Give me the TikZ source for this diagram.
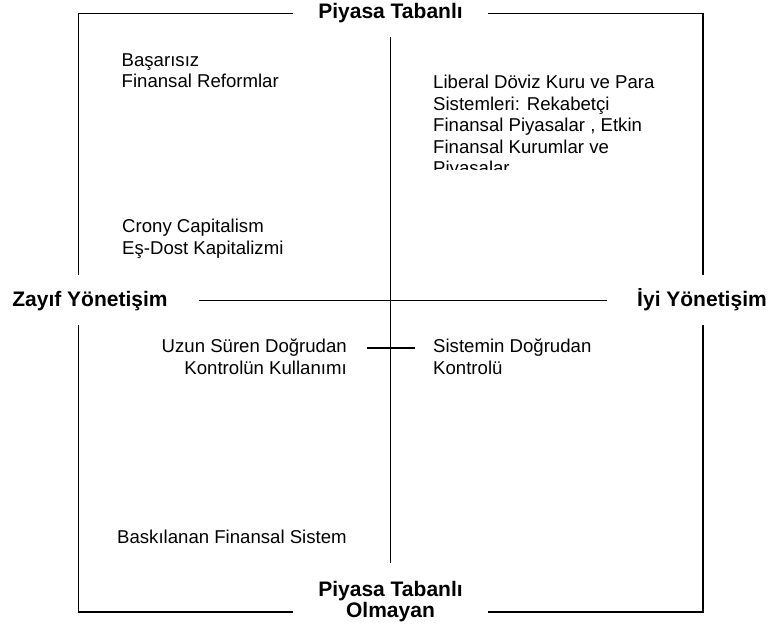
\documentclass[tikz,border=0pt]{standalone}
\usepackage{fontspec}
\setmainfont{Liberation Sans}
\begin{document}
\begin{tikzpicture}[x=1pt,y=-1pt,
  rule/.style={line width=1.8pt, black},
  axislabel/.style={font=\fontsize{21}{21}\selectfont\bfseries, inner sep=0pt, align=center},
  item/.style={font=\fontsize{18.6}{21.5}\selectfont, inner sep=0pt}]
\useasboundingbox (0,0) rectangle (771,628);

% axis labels
\node[axislabel, anchor=base] (top) at (390.5,18.5) {Piyasa Tabanlı};
\node[axislabel, anchor=north] (bottom) at (390.5,581) {Piyasa Tabanlı\\Olmayan};
\node[axislabel, anchor=base] (left) at (90,307) {Zayıf Yönetişim};
\node[axislabel, anchor=base] (right) at (702,307) {İyi Yönetişim};

% outer frame, broken where the labels sit
\coordinate (tl) at (78.5,13.5);
\coordinate (tr) at (703,13.5);
\coordinate (bl) at (78.5,612);
\coordinate (br) at (703,612);
\coordinate (topA) at (293,13.5);
\coordinate (topB) at (488,13.5);
\coordinate (botA) at (293,612);
\coordinate (botB) at (488,612);
\coordinate (leftA) at (78.5,275);
\coordinate (leftB) at (78.5,325);
\coordinate (rightA) at (703,275);
\coordinate (rightB) at (703,325);
\draw[rule] (topA) -- (tl) -- (leftA);
\draw[rule] (leftB) -- (bl) -- (botA);
\draw[rule] (botB) -- (br) -- (rightB);
\draw[rule] (rightA) -- (tr) -- (topB);

% axes
\coordinate (hl) at (199,300.5);
\coordinate (hr) at (607,300.5);
\coordinate (vt) at (390.5,37);
\coordinate (vb) at (390.5,563);
\draw[rule] (hl) -- (hr);
\draw[rule] (vt) -- (vb);

% short tick between the two control entries
\coordinate (tickL) at (367,348);
\coordinate (tickR) at (415,348);
\draw[rule] (tickL) -- (tickR);

% quadrant entries
\node[item, anchor=north west, align=left] (reform) at (121.5,53.3) {Başarısız\\Finansal Reformlar};
\node[item, anchor=north west, align=left] (crony) at (122,219) {Crony Capitalism\\Eş-Dost Kapitalizmi};
\node[item, anchor=north east, align=right] (longctrl) at (347,339) {Uzun Süren Doğrudan\\Kontrolün Kullanımı};
\node[item, anchor=north west, align=left] (directctrl) at (433,339) {Sistemin Doğrudan\\Kontrolü};
\node[item, anchor=base west] (repressed) at (117,543) {Baskılanan Finansal Sistem};
\begin{scope}
  \clip (420,60) rectangle (700,170);
  \node[item, anchor=north west, align=left] (liberal) at (433,75)
    {Liberal Döviz Kuru ve Para\\Sistemleri: Rekabetçi\\Finansal Piyasalar , Etkin\\Finansal Kurumlar ve\\Piyasalar};
\end{scope}
\end{tikzpicture}
\end{document}
